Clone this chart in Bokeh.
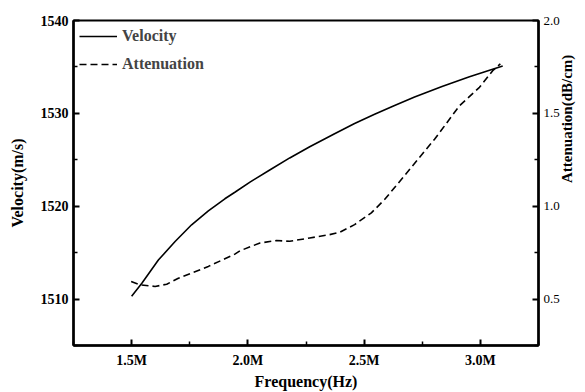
import math
from bokeh.plotting import figure
from bokeh.models import (LinearAxis, Range1d, FixedTicker, PrintfTickFormatter,
                          Legend, LegendItem)
from bokeh.embed import file_html
from bokeh.resources import INLINE

# Data (frequency in MHz)
vel_freq = [1.50, 1.544, 1.615, 1.687, 1.758, 1.830, 1.901, 1.944, 2.009, 2.094,
            2.180, 2.266, 2.373, 2.459, 2.545, 2.631, 2.717, 2.835, 2.953, 3.096]
velocity = [1510.3, 1511.7, 1514.2, 1516.2, 1518.0, 1519.5, 1520.8, 1521.5, 1522.6, 1523.9,
            1525.2, 1526.4, 1527.8, 1528.9, 1529.9, 1530.85, 1531.75, 1532.9, 1533.95, 1535.1]

att_freq = [1.498, 1.536, 1.601, 1.651, 1.701, 1.758, 1.830, 1.901, 1.944, 1.966,
            2.052, 2.123, 2.180, 2.266, 2.352, 2.395, 2.459, 2.531, 2.588, 2.660,
            2.731, 2.803, 2.835, 2.910, 2.996, 3.053, 3.086]
attenuation = [0.595, 0.577, 0.568, 0.580, 0.612, 0.640, 0.676, 0.717, 0.742, 0.760,
               0.802, 0.815, 0.811, 0.829, 0.847, 0.860, 0.901, 0.964, 1.036, 1.144,
               1.252, 1.361, 1.414, 1.541, 1.640, 1.730, 1.766]

x_ticks = [1.5, 2.0, 2.5, 3.0]
x_minor = [1.25, 1.75, 2.25, 2.75, 3.25]
v_ticks = [1510, 1520, 1530, 1540]
v_minor = [1505, 1515, 1525, 1535]
a_ticks = [0.5, 1.0, 1.5, 2.0]
a_minor = [0.25, 0.75, 1.25, 1.75]

FONT = "Liberation Serif"

p = figure(width=585, height=392, output_backend="svg", toolbar_location=None,
           x_range=Range1d(1.25, 3.25), y_range=Range1d(1505, 1540),
           min_border_left=73, min_border_right=45, min_border_top=20, min_border_bottom=44)
p.extra_y_ranges = {"att": Range1d(0.25, 2.0)}
p.grid.visible = False
p.outline_line_color = "black"
p.outline_line_width = 2
p.background_fill_color = "white"
p.border_fill_color = "white"

r1 = p.line(vel_freq, velocity, line_color="black", line_width=1.6)
r2 = p.line(att_freq, attenuation, line_color="black", line_width=1.6,
            line_dash="7 4", y_range_name="att")

right = LinearAxis(y_range_name="att")
p.add_layout(right, "right")

for ax in [p.xaxis[0], p.yaxis[0], right]:
    ax.major_tick_in = 6
    ax.major_tick_out = 0
    ax.minor_tick_in = 4
    ax.minor_tick_out = 0
    ax.axis_line_width = 2.5
    ax.major_tick_line_width = 2
    ax.minor_tick_line_width = 1.5
    ax.axis_line_color = "black"
    ax.major_label_text_font = FONT
    ax.major_label_text_font_size = "14px"
    ax.major_label_text_color = "black"
    ax.axis_label_text_font = FONT
    ax.axis_label_text_font_size = "16px"
    ax.axis_label_text_font_style = "bold"
    ax.axis_label_text_color = "black"

p.xaxis[0].ticker = FixedTicker(ticks=x_ticks, minor_ticks=x_minor)
p.xaxis[0].formatter = PrintfTickFormatter(format="%.1fM")
p.xaxis[0].axis_label = "Frequency(Hz)"
p.xaxis[0].major_label_text_font_style = "bold"
p.xaxis[0].major_label_standoff = 7
p.xaxis[0].axis_label_standoff = 2

p.yaxis[0].ticker = FixedTicker(ticks=v_ticks, minor_ticks=v_minor)
p.yaxis[0].axis_label = "Velocity(m/s)"
p.yaxis[0].major_label_text_font_style = "bold"
p.yaxis[0].major_label_standoff = 5
p.yaxis[0].axis_label_standoff = 12

right.ticker = FixedTicker(ticks=a_ticks, minor_ticks=a_minor)
right.formatter = PrintfTickFormatter(format="%.1f")
right.major_label_text_font_style = "normal"
right.major_label_text_font_size = "13px"
right.major_label_standoff = 5
right.axis_label = "Attenuation(dB/cm)"
right.axis_label_text_font_size = "15px"
right.axis_label_standoff = 4
try:
    right.axis_label_orientation = math.pi / 2
except Exception:
    pass

legend = Legend(items=[LegendItem(label="Velocity", renderers=[r1]),
                       LegendItem(label="Attenuation", renderers=[r2])],
                location="top_left")
legend.border_line_color = None
legend.background_fill_alpha = 0
legend.label_text_font = FONT
legend.label_text_font_size = "16px"
legend.label_text_font_style = "bold"
legend.glyph_width = 38
legend.spacing = 8
legend.margin = 6
legend.padding = 2
p.add_layout(legend)

open("out.html", "w").write(file_html(p, INLINE))
